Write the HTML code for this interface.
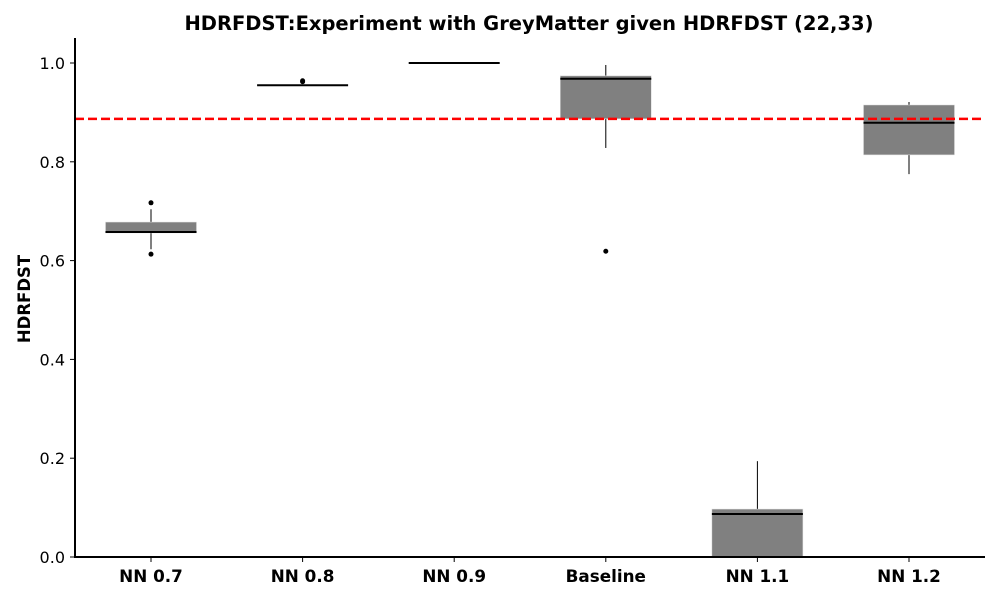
<!DOCTYPE html>
<html><head><meta charset="utf-8"><style>
body{margin:0;background:#fff;}
svg text{font-family:"DejaVu Sans","Liberation Sans",sans-serif;}
</style></head><body>
<svg id="chart" width="1000" height="600" xmlns="http://www.w3.org/2000/svg"></svg>
<script>
const categories=["NN 0.7","NN 0.8","NN 0.9","Baseline","NN 1.1","NN 1.2"];
const q1=[0.656,0.955,1.0,0.887,0.0,0.814];
const q3=[0.678,0.955,1.0,0.974,0.097,0.915];
const medians=[0.658,0.955,1.0,0.968,0.087,0.879];
const whiskLo=[0.623,0.955,1.0,0.828,0.0,0.775];
const whiskHi=[0.704,0.955,1.0,0.996,0.194,0.921];
const outliers=[[0.717,0.613],[0.964,0.962],[],[0.619],[],[]];
const refLine=0.887;
const yTicks=[0,0.2,0.4,0.6,0.8,1.0];
const tickLabels=["0.0","0.2","0.4","0.6","0.8","1.0"];

const svg=document.getElementById('chart');
const NS="http://www.w3.org/2000/svg";
const L=75,R=985,T=38,B=557;
const y=v=>B-v*494;
const x=i=>151+i*151.6;
function mk(tag,attrs,text){const e=document.createElementNS(NS,tag);for(const k in attrs)e.setAttribute(k,attrs[k]);if(text!==undefined)e.textContent=text;svg.appendChild(e);return e;}

let t=mk('text',{x:529,y:30,'text-anchor':'middle','font-size':19.5,'font-weight':'bold'},'HDRFDST:Experiment with GreyMatter given HDRFDST (22,33)');


t=mk('text',{x:30,y:299,'text-anchor':'middle','font-size':16.5,'font-weight':'bold',transform:'rotate(-90 30 299)'},'HDRFDST');



yTicks.forEach((v,i)=>{
  mk('line',{x1:L-5,x2:L,y1:y(v),y2:y(v),stroke:'#000','stroke-width':1});
  const e=mk('text',{x:L-10,y:y(v)+6,'text-anchor':'end','font-size':16},tickLabels[i]);
  
  
});

categories.forEach((c,i)=>{
  const cx=x(i),hw=45.5;
  const g=document.createElementNS(NS,'g');svg.appendChild(g);
  
  
  const add=(tag,a)=>{const e=document.createElementNS(NS,tag);for(const k in a)e.setAttribute(k,a[k]);g.appendChild(e);return e;};
  add('line',{x1:cx,x2:cx,y1:y(whiskHi[i]),y2:y(q3[i]),stroke:'#000','stroke-width':1});
  add('line',{x1:cx,x2:cx,y1:y(q1[i]),y2:y(whiskLo[i]),stroke:'#000','stroke-width':1});
  add('rect',{x:cx-hw,y:y(q3[i]),width:hw*2,height:Math.max(0,y(q1[i])-y(q3[i])),fill:'#808080',stroke:'#ddd','stroke-width':0.5});
  add('line',{x1:cx-hw,x2:cx+hw,y1:y(medians[i]),y2:y(medians[i]),stroke:'#000','stroke-width':2});
  outliers[i].forEach(o=>add('circle',{cx:cx,cy:y(o),r:2.5,fill:'#000'}));
  mk('line',{x1:cx,x2:cx,y1:B,y2:B+5,stroke:'#000','stroke-width':1});
  const e=mk('text',{x:cx,y:B+25,'text-anchor':'middle','font-size':16.8,'font-weight':'bold'},c);
  
  
});

const rl=mk('line',{x1:L,x2:R,y1:y(refLine),y2:y(refLine),stroke:'#ff0000','stroke-width':2.5,'stroke-dasharray':'9,4'});



const ya=mk('line',{x1:L,x2:L,y1:T,y2:B+1,stroke:'#000','stroke-width':2});


const xa=mk('line',{x1:L-1,x2:R,y1:B,y2:B,stroke:'#000','stroke-width':2});


</script>
</body></html>
